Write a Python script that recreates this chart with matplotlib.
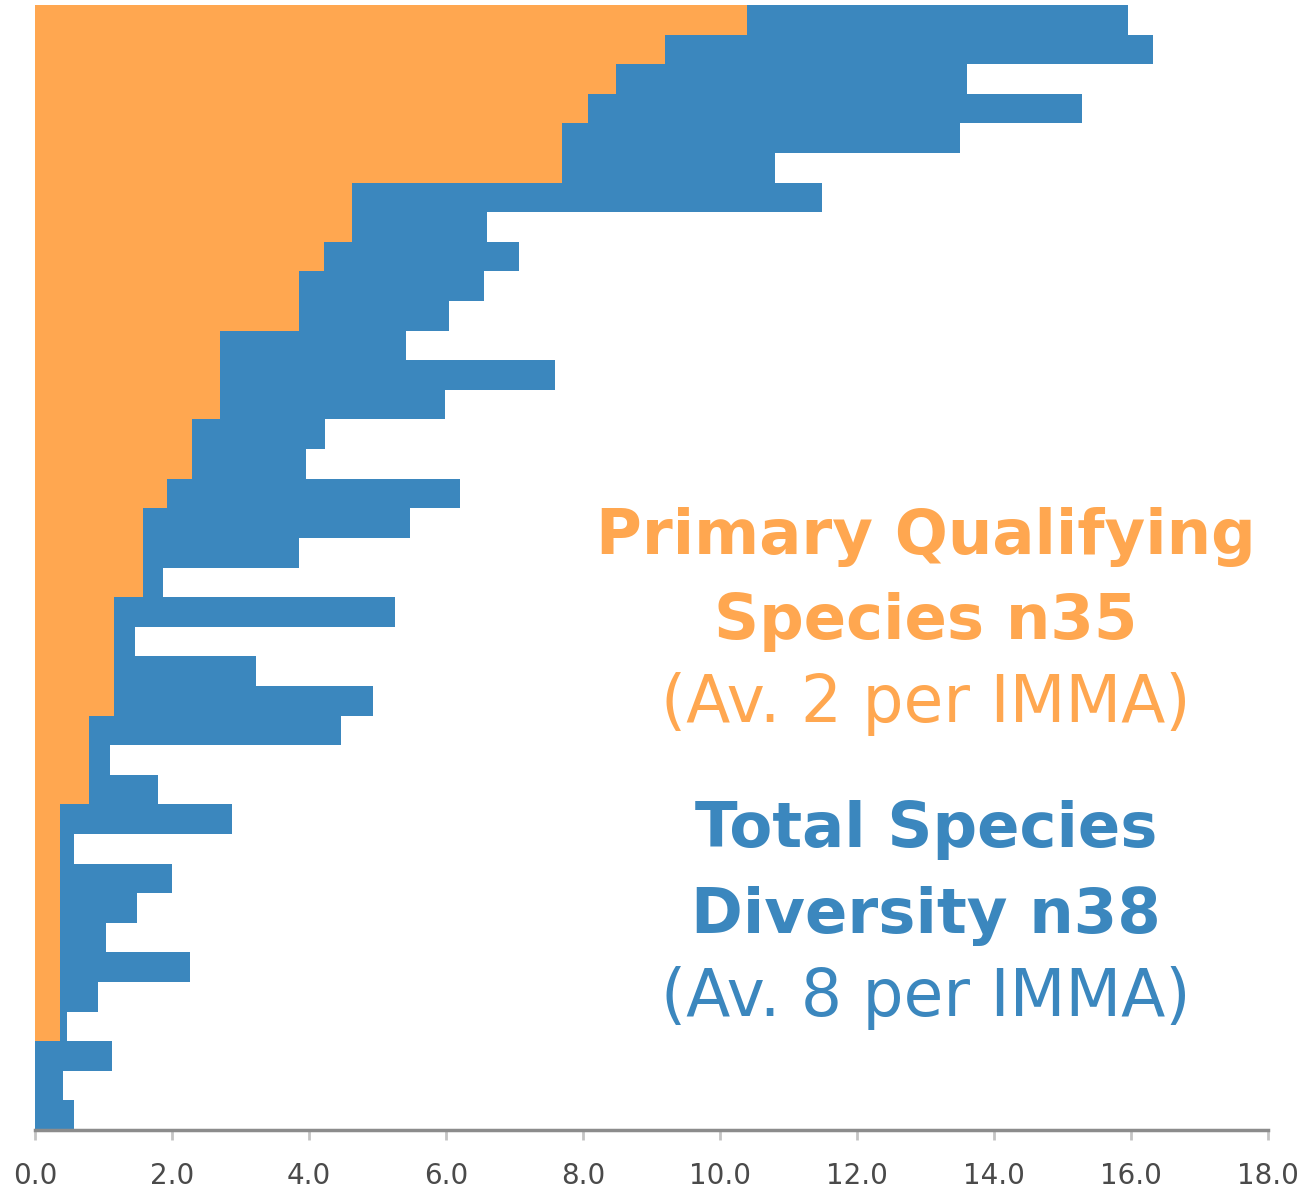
import numpy as np
import matplotlib
matplotlib.use('Agg')
import matplotlib.pyplot as plt

#---------------------dane---------------------
# jeden wiersz = jedno IMMA (od gory)
total_species = [15.96, 16.32, 13.61, 15.28, 13.50, 10.80, 11.49, 6.60, 7.07, 6.56,
                 6.04, 5.41, 7.59, 5.99, 4.23, 3.96, 6.20, 5.47, 3.86, 1.87,
                 5.26, 1.46, 3.23, 4.94, 4.47, 1.09, 1.80, 2.88, 0.57, 2.00,
                 1.49, 1.03, 2.26, 0.92, 0.46, 1.13, 0.41, 0.57]
primary_species = [10.39, 9.20, 8.48, 8.07, 7.70, 7.70, 4.63, 4.63, 4.22, 3.86,
                   3.86, 2.70, 2.70, 2.70, 2.29, 2.29, 1.93, 1.57, 1.57, 1.57,
                   1.15, 1.15, 1.15, 1.15, 0.79, 0.79, 0.79, 0.37, 0.37, 0.37,
                   0.37, 0.37, 0.37, 0.37, 0.37, 0.0, 0.0, 0.0]
x_ticks = [0, 2, 4, 6, 8, 10, 12, 14, 16, 18]

niebieski = '#3b87be'
pomaranczowy = '#ffa750'

#---------------------wykres---------------------
fig = plt.figure(figsize=(13.07, 11.95), dpi=100)
ax = fig.add_axes([35 / 1307, 65 / 1195, 1233 / 1307, 1125 / 1195])

y = np.arange(len(total_species))
ax.barh(y, total_species, height=1.0, color=niebieski, linewidth=0)
ax.barh(y, primary_species, height=1.0, color=pomaranczowy, linewidth=0)

ax.set_xlim(0, 18)
ax.set_ylim(len(total_species) - 0.5, -0.5)
ax.set_yticks([])
ax.set_xticks(x_ticks)
ax.set_xticklabels(['%.1f' % t for t in x_ticks], fontsize=20, color='#4a4a4a')
ax.tick_params(axis='x', length=7, width=2, color='#c4c4c4', pad=16)

for s in ['left', 'right', 'top']:
    ax.spines[s].set_visible(False)
ax.spines['bottom'].set_color('#8c8c8c')
ax.spines['bottom'].set_linewidth(2.5)

#---------------------opisy---------------------
cx = 926 / 1307
def napis(tekst, y_px, kolor, gruby):
    fig.text(cx, 1 - y_px / 1195, tekst, ha='center', va='baseline', color=kolor,
             fontsize=45 if gruby else 46.5, fontweight='bold' if gruby else 'normal')

napis('Primary Qualifying', 554, pomaranczowy, True)
napis('Species n35', 639, pomaranczowy, True)
napis('(Av. 2 per IMMA)', 722, pomaranczowy, False)
napis('Total Species', 847, niebieski, True)
napis('Diversity n38', 933, niebieski, True)
napis('(Av. 8 per IMMA)', 1016, niebieski, False)

plt.savefig('out.png', dpi=100)
